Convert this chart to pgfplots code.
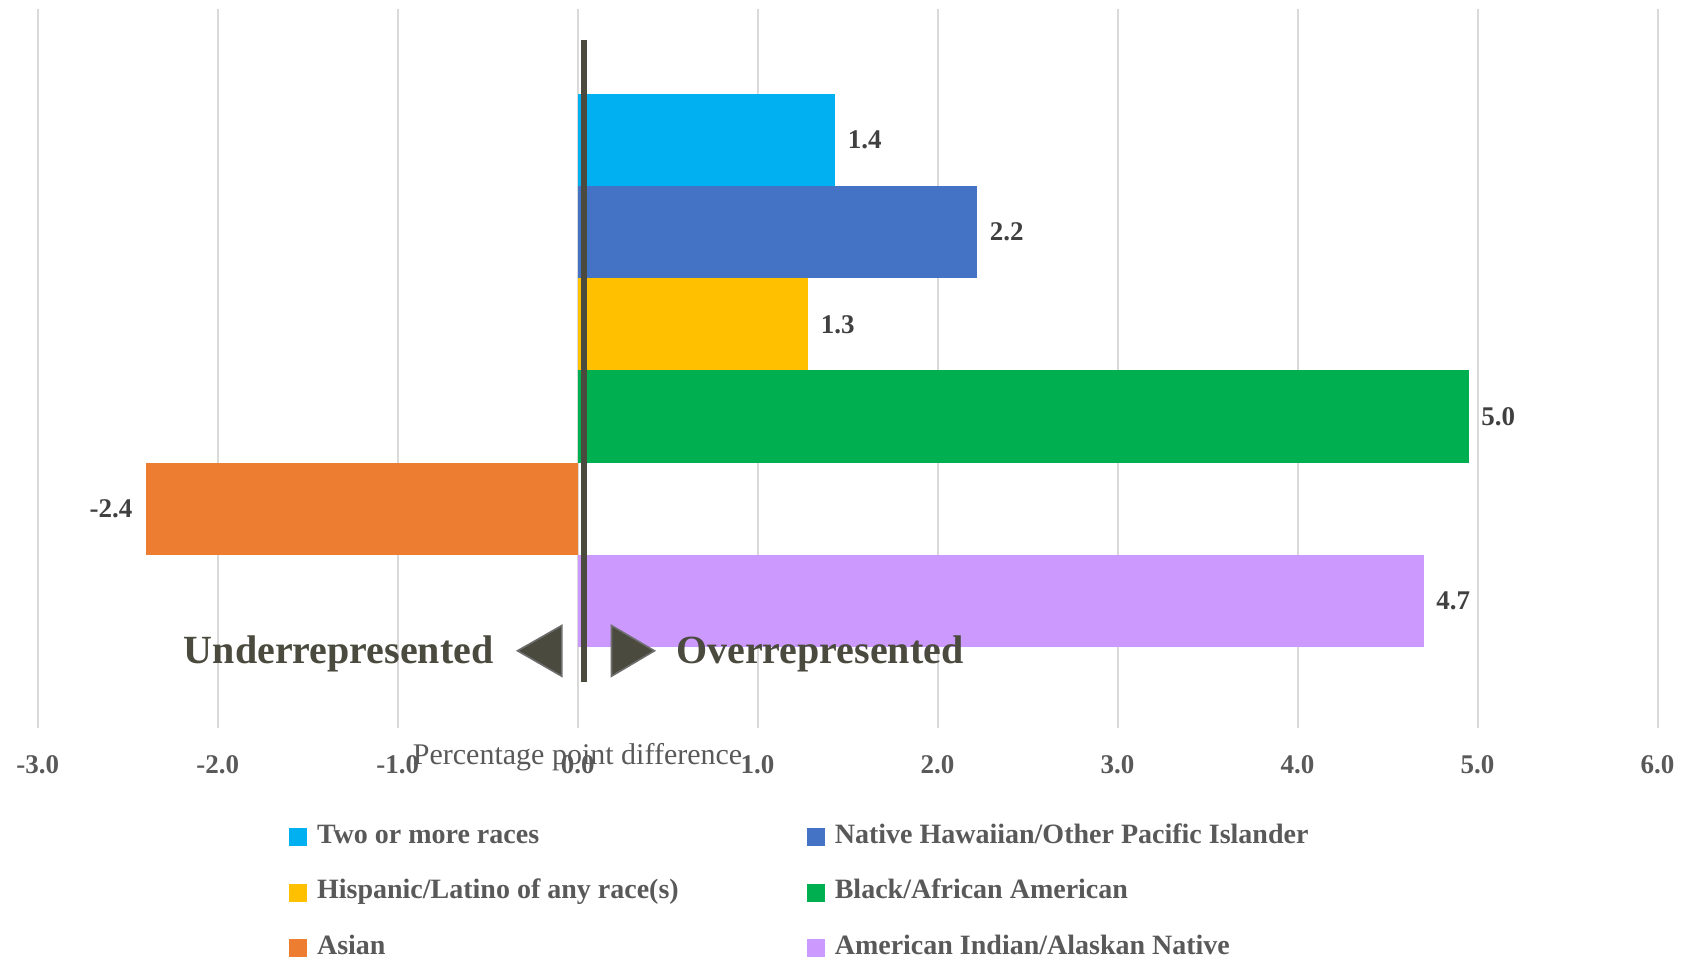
\documentclass[border=0pt]{standalone}
\usepackage{pgfplots}
\pgfplotsset{compat=1.18}
\usepackage{fontspec}
\setmainfont{Liberation Serif}
\definecolor{cTwo}{HTML}{00B0F0}
\definecolor{cNH}{HTML}{4472C4}
\definecolor{cHisp}{HTML}{FFC000}
\definecolor{cBlack}{HTML}{00B050}
\definecolor{cAsian}{HTML}{ED7D31}
\definecolor{cAIAN}{HTML}{CC99FF}
\definecolor{gridgray}{HTML}{D9D9D9}
\definecolor{txtgray}{HTML}{595959}
\definecolor{lblgray}{HTML}{404040}
\definecolor{olive}{HTML}{4B4A3E}
\definecolor{edgegray}{HTML}{6E6E6E}
\begin{document}
\begin{tikzpicture}
\path[use as bounding box] (-18.85pt,-119pt) rectangle (826.65pt,364pt);
\begin{axis}[
  at={(0,0)}, anchor=south west,
  scale only axis, width=809.9pt, height=359.7pt,
  xmin=-3, xmax=6, ymin=-0.3785, ymax=7.424,
  xtick={-3,...,6}, ytick=\empty,
  xmajorgrids, grid style={draw=gridgray, line width=1pt},
  axis line style={draw=none}, major tick length=0pt,
  clip=false,
  point meta=x,
  /pgf/number format/.cd, fixed, fixed zerofill, precision=1, assume math mode=true,
  /pgfplots/.cd,
  xticklabel style={font=\bfseries\fontsize{13.5}{16}\selectfont, text=txtgray, yshift=-10pt},
  xlabel={Percentage point difference},
  xlabel style={at={(rel axis cs:0.3333,0)}, anchor=north, yshift=-4pt,
    font=\fontsize{15}{18}\selectfont, text=txtgray},
  legend columns=2,
  legend cell align=left,
  legend style={draw=none, fill=none, inner sep=0pt,
    at={(0.15514,-0.1129)}, anchor=north west,
    font=\bfseries\fontsize{14}{16}\selectfont, text=txtgray,
    row sep=0pt,
    nodes={inner sep=0pt, text height=9pt, text depth=3pt}},
  legend image code/.code={\fill[#1] (0pt,-4.5pt) rectangle (9pt,4.5pt); \path[draw=none, fill=none] (0pt,-13.875pt) rectangle (13.85pt,13.875pt);},
  nodes near coords={\pgfmathprintnumber{\pgfplotspointmeta}},
  nodes near coords style={font=\bfseries\fontsize{13.5}{16}\selectfont, text=lblgray, inner sep=0pt},
]
\addplot[xbar, bar shift=0pt, bar width=1, fill=cTwo, draw=none,
  nodes near coords style={anchor=west, xshift=6.2pt}] coordinates {(1.43,6)};
\addlegendentry{\makebox[245pt][l]{Two or more races}}
\addplot[xbar, bar shift=0pt, bar width=1, fill=cNH, draw=none,
  nodes near coords style={anchor=west, xshift=6.2pt}] coordinates {(2.22,5)};
\addlegendentry{Native Hawaiian/Other Pacific Islander}
\addplot[xbar, bar shift=0pt, bar width=1, fill=cHisp, draw=none,
  nodes near coords style={anchor=west, xshift=6.2pt}] coordinates {(1.28,4)};
\addlegendentry{\makebox[245pt][l]{Hispanic/Latino of any race(s)}}
\addplot[xbar, bar shift=0pt, bar width=1, fill=cBlack, draw=none,
  nodes near coords style={anchor=west, xshift=6.2pt}] coordinates {(4.95,3)};
\addlegendentry{Black/African American}
\addplot[xbar, bar shift=0pt, bar width=1, fill=cAsian, draw=none,
  nodes near coords style={anchor=east, xshift=-6.5pt}] coordinates {(-2.40,2)};
\addlegendentry{\makebox[245pt][l]{Asian}}
\addplot[xbar, bar shift=0pt, bar width=1, fill=cAIAN, draw=none,
  nodes near coords style={anchor=west, xshift=6.2pt}] coordinates {(4.70,1)};
\addlegendentry{American Indian/Alaskan Native}
\draw[line width=3.2pt, color=olive] (axis cs:0.035,0.125) -- (axis cs:0.035,7.084);
\filldraw[fill=olive, draw=edgegray, line width=0.8pt]
  (axis cs:-0.088,0.733) -- (axis cs:-0.088,0.183) -- (axis cs:-0.334,0.459) -- cycle;
\filldraw[fill=olive, draw=edgegray, line width=0.8pt]
  (axis cs:0.188,0.733) -- (axis cs:0.188,0.183) -- (axis cs:0.427,0.459) -- cycle;
\node[anchor=base east, inner sep=0pt, font=\bfseries\fontsize{20}{24}\selectfont, text=olive]
  at (axis cs:-0.465,0.323) {Underrepresented};
\node[anchor=base west, inner sep=0pt, font=\bfseries\fontsize{20}{24}\selectfont, text=olive]
  at (axis cs:0.545,0.323) {Overrepresented};
\end{axis}
\end{tikzpicture}
\end{document}
